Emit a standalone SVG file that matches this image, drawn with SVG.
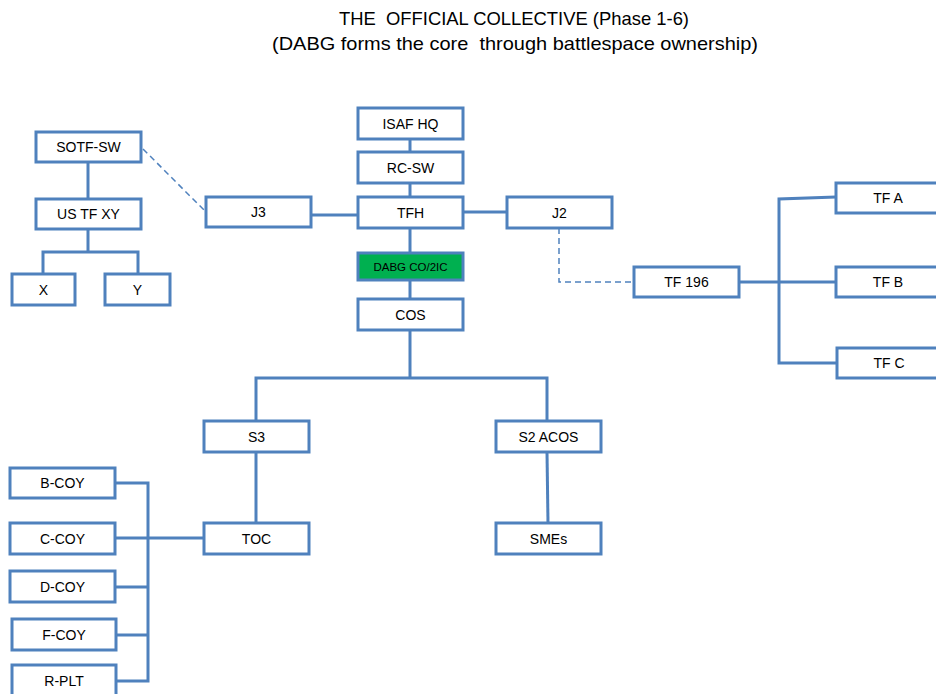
<svg xmlns="http://www.w3.org/2000/svg" width="936" height="694" viewBox="0 0 936 694">
  <style>
    .box { fill: #ffffff; stroke: #4f81bd; stroke-width: 3; }
    .core { fill: #00b050; stroke: #4f81bd; stroke-width: 3; }
    .lbl { font-family: "Liberation Sans", Arial, sans-serif; font-size: 14px; fill: #000000; text-anchor: middle; }
    .small { font-size: 11.5px; }
    .title { font-family: "Liberation Sans", Arial, sans-serif; font-size: 19px; fill: #000000; text-anchor: middle; white-space: pre; }
    .line { fill: none; stroke: #4f81bd; stroke-width: 3; }
    .dash { fill: none; stroke: #4f81bd; stroke-width: 1.5; stroke-dasharray: 6 4; }
  </style>
  <rect width="936" height="694" fill="#ffffff"/>

  <text class="title" x="514" y="25" textLength="350" lengthAdjust="spacingAndGlyphs" xml:space="preserve">THE  OFFICIAL COLLECTIVE (Phase 1-6)</text>
  <text class="title" x="515" y="50" textLength="486" lengthAdjust="spacingAndGlyphs" xml:space="preserve">(DABG forms the core  through battlespace ownership)</text>

  <g id="connectors">
    <!-- SOTF branch -->
    <path class="line" d="M88 162 V199"/>
    <path class="line" d="M88 229 V252 M43 274 V252 H138 V274"/>
    <path class="dash" d="M143 149 L205 211"/>
    <!-- command chain -->
    <path class="line" d="M410 139 V152"/>
    <path class="line" d="M410 183 V197"/>
    <path class="line" d="M410 228 V253"/>
    <path class="line" d="M410 280 V299"/>
    <path class="line" d="M311 215 H358"/>
    <path class="line" d="M463 212 H507"/>
    <path class="dash" d="M559 228 V282 H634"/>
    <!-- TF 196 branch -->
    <path class="line" d="M739 282 H836"/>
    <path class="line" d="M836 197 L779 199 V363 H837"/>
    <!-- staff branch -->
    <path class="line" d="M410 330 V378"/>
    <path class="line" d="M256 421 V378 H547 V421"/>
    <path class="line" d="M256 452 V523"/>
    <path class="line" d="M547 452 L548 523"/>
    <!-- TOC companies -->
    <path class="line" d="M204 538 H148"/>
    <path class="line" d="M115 483 H148 V681 H116"/>
    <path class="line" d="M115 538 H148"/>
    <path class="line" d="M115 587 H148"/>
    <path class="line" d="M116 635 H148"/>
  </g>

  <g id="sotf-sw"><rect class="box" x="36" y="132" width="105" height="30"/><text class="lbl" x="88.5" y="152">SOTF-SW</text></g>
  <g id="us-tf-xy"><rect class="box" x="36" y="199" width="105" height="30"/><text class="lbl" x="88.5" y="219">US TF XY</text></g>
  <g id="x"><rect class="box" x="12" y="274" width="63" height="31"/><text class="lbl" x="43.5" y="295">X</text></g>
  <g id="y"><rect class="box" x="105" y="274" width="65" height="31"/><text class="lbl" x="137.5" y="295">Y</text></g>
  <g id="j3"><rect class="box" x="206" y="197" width="105" height="30"/><text class="lbl" x="258.5" y="217">J3</text></g>

  <g id="isaf-hq"><rect class="box" x="358" y="108" width="105" height="31"/><text class="lbl" x="410.5" y="129">ISAF HQ</text></g>
  <g id="rc-sw"><rect class="box" x="358" y="152" width="105" height="31"/><text class="lbl" x="410.5" y="173">RC-SW</text></g>
  <g id="tfh"><rect class="box" x="358" y="197" width="105" height="31"/><text class="lbl" x="410.5" y="218">TFH</text></g>
  <g id="dabg"><rect class="core" x="358" y="253" width="105" height="27"/><text class="lbl small" x="410.5" y="271">DABG CO/2IC</text></g>
  <g id="cos"><rect class="box" x="358" y="299" width="105" height="31"/><text class="lbl" x="410.5" y="320">COS</text></g>
  <g id="j2"><rect class="box" x="507" y="197" width="105" height="31"/><text class="lbl" x="559.5" y="218">J2</text></g>

  <g id="tf-196"><rect class="box" x="634" y="267" width="105" height="30"/><text class="lbl" x="686.5" y="287">TF 196</text></g>
  <g id="tf-a"><rect class="box" x="836" y="183" width="105" height="30"/><text class="lbl" x="888" y="203">TF A</text></g>
  <g id="tf-b"><rect class="box" x="836" y="267" width="105" height="30"/><text class="lbl" x="888" y="287">TF B</text></g>
  <g id="tf-c"><rect class="box" x="837" y="348" width="105" height="30"/><text class="lbl" x="889" y="368">TF C</text></g>

  <g id="s3"><rect class="box" x="204" y="421" width="105" height="31"/><text class="lbl" x="256.5" y="442">S3</text></g>
  <g id="toc"><rect class="box" x="204" y="523" width="105" height="31"/><text class="lbl" x="256.5" y="544">TOC</text></g>
  <g id="s2-acos"><rect class="box" x="496" y="421" width="105" height="31"/><text class="lbl" x="548.5" y="442">S2 ACOS</text></g>
  <g id="smes"><rect class="box" x="496" y="523" width="105" height="31"/><text class="lbl" x="548.5" y="544">SMEs</text></g>

  <g id="b-coy"><rect class="box" x="10" y="468" width="105" height="30"/><text class="lbl" x="62.5" y="488">B-COY</text></g>
  <g id="c-coy"><rect class="box" x="10" y="523" width="105" height="31"/><text class="lbl" x="62.5" y="544">C-COY</text></g>
  <g id="d-coy"><rect class="box" x="10" y="571" width="105" height="31"/><text class="lbl" x="62.5" y="592">D-COY</text></g>
  <g id="f-coy"><rect class="box" x="12" y="619" width="104" height="31"/><text class="lbl" x="64" y="640">F-COY</text></g>
  <g id="r-plt"><rect class="box" x="12" y="665" width="104" height="31"/><text class="lbl" x="64" y="686">R-PLT</text></g>
</svg>
